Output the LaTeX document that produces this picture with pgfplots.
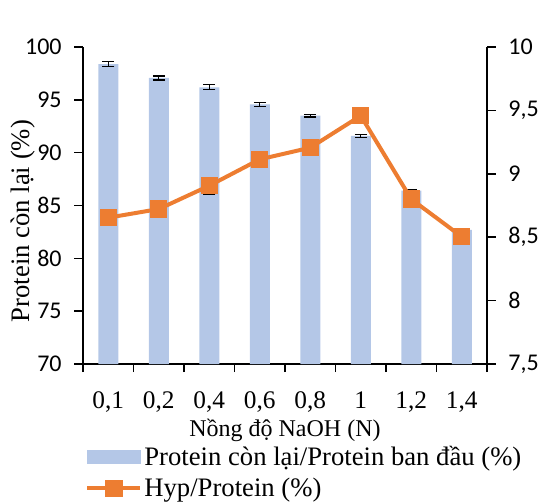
\documentclass[border=0pt]{standalone}
\usepackage{pgfplots}
\pgfplotsset{compat=1.18}
\usepackage{fontspec}
\setmainfont{Liberation Serif}
\newfontfamily\tickfont{Carlito}
\definecolor{barblue}{HTML}{B4C7E7}
\definecolor{exorange}{HTML}{ED7D31}
\pgfplotsset{mylinelegend/.style={legend image code/.code={\draw[mark repeat=2,mark phase=2,##1] plot coordinates {(0cm,0cm) (0.7cm,0cm) (1.4cm,0cm)};}}}
\begin{document}
\begin{tikzpicture}
\begin{axis}[
  name=main,
  scale only axis, width=303pt, height=237.75pt,
  xmin=-0.5, xmax=7.5, ymin=70, ymax=100,
  axis x line*=bottom, axis y line*=left,
  axis line style={line width=1.1pt, -},
  xtick={0,...,7},
  xticklabels={{0,1},{0,2},{0,4},{0,6},{0,8},{1},{1,2},{1,4}},
  major x tick style={draw=none},
  minor xtick={-0.5,0.5,...,7.5},
  ytick={70,75,...,100},
  tick align=outside,
  major tick length=6.5pt, minor tick length=6pt,
  tick style={line width=1.1pt, black},
  /pgf/number format/assume math mode=true,
  yticklabel style={font=\tickfont\fontsize{18}{18}\selectfont, xshift=-6pt},
  xticklabel style={font=\fontsize{19}{19}\selectfont, yshift=-11pt},
  ylabel={Protein còn lại (\%)},
  ylabel style={font=\fontsize{20}{20}\selectfont, at={(axis description cs:-0.148,0.451)}, anchor=center},
  xlabel={Nồng độ NaOH (N)},
  xlabel style={font=\fontsize{18}{18}\selectfont, yshift=2pt},
]
\addplot[ybar, bar width=15pt, fill=barblue, draw=none,
  error bars/.cd, y dir=both, y explicit,
  error bar style={black, line width=0.9pt},
  error mark options={black, line width=0.9pt, mark size=4.5pt, rotate=90}]
coordinates {
  (0,98.39) +- (0,0.22)
  (1,97.07) +- (0,0.19)
  (2,96.19) +- (0,0.25)
  (3,94.58) +- (0,0.18)
  (4,93.50) +- (0,0.13)
  (5,91.58) +- (0,0.13)
  (6,86.40) +- (0,0.15)
  (7,82.69) +- (0,0.10)
};
\end{axis}
\begin{axis}[
  scale only axis, width=303pt, height=237.75pt,
  xmin=-0.5, xmax=7.5, ymin=7.5, ymax=10,
  axis x line=none, axis y line*=right,
  axis line style={line width=1.1pt, -},
  ytick={7.5,8,...,10},
  tick align=outside,
  major tick length=6.5pt,
  tick style={line width=1.1pt, black},
  /pgf/number format/use comma,
  /pgf/number format/assume math mode=true,
  tick label style={font=\tickfont\fontsize{18}{18}\selectfont},
  yticklabel style={xshift=6pt},
  legend style={draw=none, fill=none, at={(axis description cs:0.005,-0.25)}, anchor=north west,
    inner sep=0pt, font=\fontsize{20}{20}\selectfont, row sep=4pt, nodes={inner xsep=1.5pt}},
  legend cell align=left,
]
\addlegendimage{legend image code/.code={\fill[barblue] (0cm,-0.17cm) rectangle (1.4cm,0.17cm);}}
\addlegendentry{Protein còn lại/Protein ban đầu (\%)}
\addplot[forget plot, draw=none, mark=none,
  error bars/.cd, y dir=both, y explicit,
  error bar style={black, line width=0.9pt},
  error mark options={black, line width=0.9pt, mark size=4.5pt, rotate=90}]
coordinates {(2,8.906) +- (0,0.068)};
\addplot[exorange, line width=3pt, mark=square*, mark size=5pt, mark options={solid, fill=exorange}, mylinelegend]
coordinates {
  (0,8.654) (1,8.722) (2,8.906) (3,9.114) (4,9.206) (5,9.458) (6,8.80) (7,8.504)
};
\addlegendentry{Hyp/Protein (\%)}
\end{axis}
\pgfresetboundingbox
\path ([xshift=-62.25pt, yshift=-103.5pt]main.south west) rectangle ([xshift=43.5pt, yshift=35.25pt]main.north east);
\end{tikzpicture}
\end{document}
